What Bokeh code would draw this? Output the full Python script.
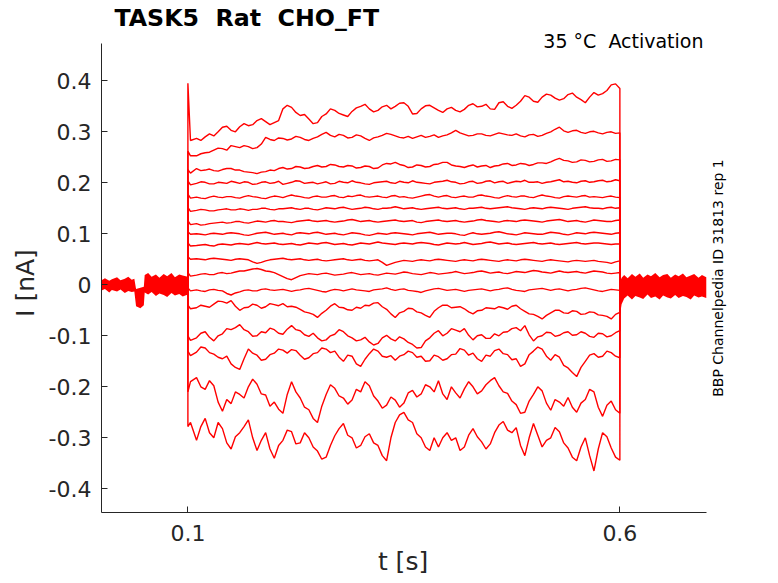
import math
from bokeh.plotting import figure
from bokeh.models import Label, FixedTicker, LinearAxis
from bokeh.embed import file_html
from bokeh.resources import INLINE

# time base of the step traces (s): onset spike, start, then a 10 ms grid
t_step = [0.100, 0.103]
t_grid = [round(0.11 + 0.01 * i, 2) for i in range(50)]
t_mid = [round(0.115 + 0.01 * i, 3) for i in range(49)]  # between grid points
holding = 0.0  # nA, holding current before / after the step

# currents in pA, one list per voltage step (spike, start, then 0.11 .. 0.60)
tr01 = [395, 283,
        287, 290, 292, 309, 303, 310, 312, 322, 320, 318,
        345, 348, 332, 325, 318, 335, 342, 333, 340, 350,
        345, 342, 352, 350, 357, 335, 345, 352, 342, 345,
        342, 344, 355, 350, 345, 357, 350, 352, 371, 360,
        368, 372, 362, 373, 368, 357, 377, 375, 392, 385]
tr02 = [262, 253,
        253, 259, 264, 267, 273, 269, 271, 269, 289, 283,
        287, 286, 289, 283, 290, 299, 290, 293, 289, 292,
        283, 290, 297, 292, 288, 287, 293, 291, 289, 294,
        303, 295, 293, 296, 292, 298, 294, 296, 290, 295,
        293, 300, 309, 299, 303, 297, 301, 296, 300, 298]
tr03 = [226, 219,
        228, 225, 224, 226, 228, 225, 221, 218, 222, 224,
        230, 228, 231, 229, 234, 232, 235, 231, 233, 230,
        232, 229, 238, 240, 234, 231, 234, 232, 237, 240,
        233, 230, 235, 233, 230, 234, 238, 235, 237, 236,
        239, 241, 248, 243, 241, 244, 242, 246, 243, 245]
tr04 = [204, 196,
        199, 201, 198, 200, 203, 199, 201, 198, 202, 200,
        197, 201, 203, 200, 198, 202, 199, 201, 204, 200,
        197, 201, 203, 199, 201, 204, 200, 198, 202, 205,
        201, 199, 203, 200, 204, 202, 199, 203, 205, 201,
        199, 202, 206, 203, 200, 204, 202, 205, 203, 204]
tr05 = [178, 170,
        172, 169, 174, 171, 173, 170, 175, 172, 169, 174,
        171, 176, 173, 170, 174, 172, 175, 171, 173, 176,
        172, 174, 171, 175, 173, 170, 174, 177, 172, 175,
        171, 174, 172, 176, 173, 170, 175, 172, 174, 171,
        176, 173, 170, 174, 172, 175, 173, 171, 174, 171]
tr06 = [152, 144,
        146, 147, 145, 148, 147, 149, 146, 148, 150, 147,
        149, 151, 148, 150, 147, 151, 149, 152, 148, 150,
        151, 148, 150, 153, 149, 151, 148, 150, 152, 149,
        151, 148, 150, 152, 149, 151, 153, 150, 148, 151,
        149, 152, 150, 148, 151, 153, 150, 149, 152, 151]
tr07 = [126, 118,
        120, 118, 121, 123, 122, 124, 121, 125, 123, 126,
        124, 122, 125, 127, 124, 126, 123, 125, 128, 124,
        126, 123, 125, 127, 124, 126, 122, 125, 127, 124,
        126, 123, 125, 128, 125, 123, 126, 124, 127, 125,
        123, 126, 128, 124, 126, 123, 127, 125, 124, 127]
tr08 = [104, 99,
        100, 98, 101, 99, 102, 100, 97, 101, 103, 99,
        101, 98, 102, 100, 103, 99, 101, 98, 102, 100,
        97, 101, 99, 102, 100, 98, 101, 103, 99, 101,
        100, 97, 102, 99, 101, 104, 100, 98, 102, 100,
        99, 103, 101, 98, 102, 100, 103, 101, 99, 102]
tr09 = [82, 76,
        77, 79, 76, 80, 78, 81, 79, 83, 80, 82,
        79, 81, 78, 82, 80, 83, 79, 81, 78, 82,
        80, 84, 81, 79, 82, 80, 83, 81, 78, 82,
        80, 83, 79, 81, 84, 80, 82, 79, 81, 83,
        80, 82, 79, 81, 83, 80, 82, 81, 79, 80]
tr10 = [55, 50,
        51, 49, 52, 50, 48, 51, 49, 42, 47, 50,
        52, 49, 51, 48, 50, 47, 49, 51, 48, 50,
        47, 49, 38, 44, 48, 46, 49, 47, 50, 48,
        46, 49, 47, 50, 48, 46, 49, 47, 50, 48,
        46, 49, 47, 45, 48, 46, 48, 45, 42, 47]
tr11 = [24, 17,
        19, 22, 20, 24, 23, 27, 29, 32, 27, 24,
        16, 10, 18, 22, 20, 23, 19, 21, 24, 20,
        22, 19, 23, 21, 25, 22, 20, 24, 21, 23,
        26, 22, 24, 27, 23, 25, 22, 26, 24, 28,
        25, 23, 27, 24, 26, 23, 27, 25, 22, 24]
tr12 = [-6, -12,
        -10, -13, -9, -12, -20, -14, -10, -12, -8, -11,
        -9, -13, -10, -7, -11, -14, -9, -12, -8, -11,
        -13, -9, -6, -11, -8, -12, -15, -10, -7, -11,
        -9, -13, -10, -8, -12, -9, -6, -11, -13, -9,
        -7, -11, -8, -12, -9, -6, -10, -13, -9, -11]
tr13 = [-40, -47,
        -45, -42, -38, -33, -31, -50, -44, -40, -43, -39,
        -37, -42, -48, -55, -64, -50, -37, -45, -50, -46,
        -41, -35, -48, -64, -52, -47, -55, -64, -45, -40,
        -44, -47, -57, -50, -46, -43, -48, -40, -52, -58,
        -67, -55, -50, -56, -52, -57, -54, -60, -67, -54]
tr14 = [-100, -109,
        -104, -92, -110, -96, -88, -78, -92, -100, -94, -88,
        -97, -80, -90, -101, -104, -108, -97, -92, -104, -108,
        -112, -115, -99, -110, -106, -117, -123, -104, -90, -95,
        -89, -86, -108, -98, -105, -100, -92, -84, -80, -110,
        -100, -94, -99, -92, -98, -95, -103, -96, -100, -90]
tr15 = [-130, -139,
        -132, -124, -136, -145, -155, -166, -126, -138, -146, -134,
        -128, -127, -138, -143, -133, -126, -130, -150, -140, -160,
        -135, -130, -142, -148, -137, -133, -140, -149, -141, -145,
        -136, -128, -134, -150, -140, -126, -137, -145, -155, -130,
        -126, -148, -142, -163, -180, -150, -135, -140, -133, -143]
tr16 = [-210, -190,
        -182, -205, -198, -248, -233, -215, -200, -195, -216, -230,
        -252, -190, -222, -245, -270, -215, -203, -222, -226, -210,
        -198, -228, -236, -226, -232, -207, -214, -200, -188, -225,
        -212, -204, -200, -208, -188, -198, -213, -235, -250, -215,
        -208, -246, -230, -221, -250, -225, -210, -258, -228, -252]
tr17 = [-278, -270,
        -305, -262, -300, -282, -322, -290, -265, -325, -290, -340,
        -305, -288, -310, -300, -326, -338, -296, -272, -300, -315,
        -292, -315, -345, -270, -250, -270, -300, -325, -318, -290,
        -300, -318, -282, -308, -312, -275, -285, -280, -335, -272,
        -318, -300, -288, -320, -345, -300, -365, -290, -320, -344]
traces = [tr01, tr02, tr03, tr04, tr05, tr06, tr07, tr08, tr09,
          tr10, tr11, tr12, tr13, tr14, tr15, tr16, tr17]

# values half way between the grid points (0.115 .. 0.595), pA
md01 = [283, 296, 300, 311, 300, 316, 314, 326, 314, 322,
        352, 338, 334, 316, 330, 345, 336, 330, 347, 354,
        339, 349, 345, 356, 350, 336, 351, 347, 338, 348,
        339, 352, 349, 354, 344, 359, 346, 360, 368, 358,
        374, 366, 365, 376, 363, 368, 372, 381, 394]
md02 = [257, 260, 268, 264, 271, 273, 267, 276, 285, 288,
        284, 291, 285, 287, 295, 293, 295, 288, 294, 287,
        288, 293, 295, 289, 291, 290, 289, 294, 292, 298,
        298, 292, 296, 293, 295, 296, 293, 292, 294, 291,
        297, 305, 302, 302, 299, 300, 298, 299, 297]
md03 = [224, 227, 223, 228, 225, 222, 220, 221, 225, 228,
        227, 232, 228, 232, 231, 236, 232, 234, 229, 233,
        228, 235, 237, 236, 230, 235, 231, 236, 240, 235,
        232, 233, 231, 234, 233, 237, 234, 238, 234, 239,
        238, 245, 244, 240, 245, 241, 245, 242, 246]
md04 = [202, 198, 201, 199, 201, 202, 197, 201, 199, 203,
        199, 204, 199, 201, 200, 198, 203, 200, 201, 198,
        200, 202, 200, 203, 200, 201, 199, 201, 203, 202,
        198, 202, 199, 203, 200, 203, 201, 202, 201, 202,
        201, 204, 202, 201, 203, 201, 204, 202, 206]
md05 = [170, 172, 172, 173, 171, 173, 173, 170, 172, 173,
        174, 174, 171, 173, 172, 174, 172, 174, 175, 173,
        173, 172, 174, 172, 171, 172, 176, 174, 174, 172,
        173, 172, 175, 174, 171, 173, 173, 174, 172, 174,
        174, 171, 173, 173, 174, 172, 172, 173, 172]
md06 = [148, 145, 147, 149, 147, 148, 148, 150, 148, 149,
        150, 149, 150, 148, 149, 150, 151, 150, 149, 152,
        149, 150, 151, 151, 150, 149, 149, 151, 150, 150,
        149, 150, 151, 150, 150, 152, 151, 149, 150, 150,
        151, 151, 149, 150, 152, 151, 150, 151, 150]
md07 = [117, 120, 122, 121, 124, 122, 123, 124, 125, 124,
        123, 124, 126, 125, 125, 124, 124, 127, 126, 125,
        124, 124, 126, 125, 125, 123, 124, 126, 125, 125,
        124, 124, 127, 126, 124, 125, 125, 126, 126, 124,
        125, 127, 126, 125, 124, 125, 126, 124, 126]
md08 = [99, 100, 100, 101, 101, 98, 99, 102, 101, 100,
        99, 101, 101, 102, 101, 100, 99, 100, 101, 98,
        99, 100, 101, 101, 99, 100, 102, 101, 100, 101,
        98, 100, 100, 100, 103, 102, 99, 100, 101, 99,
        101, 102, 99, 100, 101, 102, 102, 100, 101]
md09 = [78, 77, 79, 79, 80, 80, 81, 81, 81, 80,
        80, 79, 80, 81, 82, 81, 80, 79, 80, 81,
        82, 82, 80, 81, 81, 82, 82, 79, 80, 81,
        81, 81, 80, 83, 82, 81, 80, 80, 82, 81,
        81, 80, 80, 82, 81, 81, 82, 80, 80]
md10 = [50, 51, 51, 49, 50, 50, 45, 44, 49, 51,
        50, 50, 49, 49, 48, 48, 50, 49, 49, 48,
        48, 44, 41, 46, 47, 48, 48, 49, 49, 47,
        48, 48, 49, 49, 47, 48, 48, 49, 49, 47,
        48, 48, 46, 47, 47, 47, 46, 44, 45]
md11 = [21, 20, 23, 22, 25, 27, 31, 30, 26, 20,
        12, 14, 20, 21, 22, 21, 20, 23, 22, 21,
        20, 21, 22, 23, 24, 21, 22, 23, 22, 24,
        24, 23, 26, 25, 24, 23, 24, 25, 26, 27,
        24, 25, 25, 25, 24, 25, 26, 23, 23]
md12 = [-12, -10, -11, -17, -16, -11, -12, -9, -10, -10,
        -11, -11, -8, -9, -13, -11, -10, -10, -10, -12,
        -10, -8, -9, -9, -11, -13, -12, -8, -9, -10,
        -11, -11, -9, -10, -10, -7, -9, -12, -10, -8,
        -9, -9, -10, -10, -7, -8, -12, -11, -10]
md13 = [-40, -44, -32, -36, -42, -45, -38, -46, -37, -41,
        -43, -44, -53, -58, -56, -42, -44, -49, -44, -40,
        -36, -43, -57, -55, -46, -53, -60, -52, -40, -45,
        -43, -53, -51, -45, -47, -45, -42, -47, -57, -62,
        -60, -50, -55, -51, -58, -53, -59, -62, -58]
md14 = [-95, -103, -100, -86, -84, -88, -101, -92, -85, -95,
        -87, -88, -98, -95, -110, -100, -88, -100, -110, -103,
        -118, -104, -106, -102, -113, -124, -110, -95, -100, -86,
        -92, -99, -100, -105, -96, -93, -86, -90, -98, -102,
        -93, -101, -94, -99, -92, -101, -95, -102, -94]
md15 = [-122, -133, -142, -140, -162, -145, -134, -148, -137, -126,
        -134, -129, -146, -135, -124, -133, -142, -138, -155, -146,
        -126, -140, -139, -140, -130, -142, -150, -138, -148, -137,
        -125, -138, -145, -138, -129, -135, -147, -160, -137, -122,
        -140, -137, -158, -172, -162, -138, -142, -130, -140]
md16 = [-200, -188, -230, -225, -210, -222, -185, -214, -238, -244,
        -215, -210, -240, -262, -238, -196, -218, -234, -205, -190,
        -218, -242, -220, -240, -212, -220, -196, -210, -214, -200,
        -222, -190, -214, -196, -182, -210, -228, -252, -228, -200,
        -232, -225, -238, -240, -232, -205, -240, -236, -245]
md17 = [-278, -290, -270, -310, -298, -278, -300, -305, -322, -315,
        -285, -312, -290, -318, -342, -315, -282, -295, -320, -298,
        -310, -335, -300, -255, -265, -292, -318, -300, -300, -305,
        -325, -295, -298, -322, -290, -268, -290, -315, -300, -295,
        -305, -280, -310, -338, -318, -335, -322, -298, -338]
mids = [md01, md02, md03, md04, md05, md06, md07, md08, md09,
        md10, md11, md12, md13, md14, md15, md16, md17]

# overlapping holding-current noise before and after the step (envelope, pA)
t_pre = [0.000, 0.004, 0.009, 0.012, 0.018, 0.022, 0.027, 0.031, 0.035, 0.038,
         0.040, 0.045, 0.049, 0.050, 0.054, 0.058, 0.063, 0.067, 0.072, 0.076,
         0.081, 0.085, 0.090, 0.094, 0.100]
pre_hi = [9, 13, 8, 11, 15, 9, 12, 16, 10, 12, -8, -6, -4, 19, 23, 16, 20, 14,
          21, 17, 23, 15, 20, 18, 16]
pre_lo = [-11, -8, -15, -10, -13, -9, -16, -12, -14, -13, -42, -46, -40, -15,
          -19, -14, -22, -17, -20, -24, -16, -21, -18, -23, -19]
t_post = [0.600, 0.602, 0.605, 0.609, 0.614, 0.618, 0.623, 0.627, 0.632,
          0.636, 0.641, 0.646, 0.650, 0.655, 0.659, 0.664, 0.668, 0.673,
          0.677, 0.682, 0.686, 0.691, 0.695, 0.700]
post_hi = [5, 14, 19, 13, 21, 16, 22, 14, 20, 17, 23, 15, 19, 21, 14, 20, 17,
           22, 15, 18, 21, 14, 19, 15]
post_lo = [-60, -38, -27, -21, -29, -22, -25, -28, -19, -26, -23, -29, -21,
           -25, -27, -20, -26, -22, -24, -29, -21, -25, -23, -26]

y_ticks = [-0.4, -0.3, -0.2, -0.1, 0.0, 0.1, 0.2, 0.3, 0.4]
y_tick_labels = ["-0.4", "-0.3", "-0.2", "-0.1", "0", "0.1", "0.2", "0.3", "0.4"]
x_ticks = [0.1, 0.6]
x_tick_labels = ["0.1", "0.6"]

RED = "#ff0000"
INK = "#262626"
FONT = "DejaVu Sans"

# the frame reaches the top and right edges so the texts there are not clipped;
# the axis bounds keep the drawn spines to the data box
p = figure(width=778, height=583, x_range=(0, 0.7836), y_range=(-0.4465, 0.5575),
           output_backend="svg", toolbar_location=None,
           min_border_left=101, min_border_right=0,
           min_border_top=0, min_border_bottom=71)
p.title_location = None
p.outline_line_color = None
p.background_fill_color = "white"
p.border_fill_color = "white"
p.xgrid.visible = False
p.ygrid.visible = False

# holding noise bands
p.varea(x=t_pre, y1=[v / 1000 for v in pre_lo], y2=[v / 1000 for v in pre_hi],
        fill_color=RED)
p.varea(x=t_post, y1=[v / 1000 for v in post_lo], y2=[v / 1000 for v in post_hi],
        fill_color=RED)

for tr, md in zip(traces, mids):
    xs = [0.1] + t_step
    ys = [holding] + [v / 1000 for v in tr[:2]]
    grid = tr[2:]
    for i in range(len(grid)):
        xs.append(t_grid[i])
        ys.append(grid[i] / 1000)
        if i < len(md) and i < len(t_mid):
            xs.append(t_mid[i])
            ys.append(md[i] / 1000)
    xs.append(0.6)
    ys.append(holding)
    p.line(xs, ys, line_color=RED, line_width=1.4)


def style_axis(ax, size):
    ax.axis_line_color = INK
    ax.major_tick_line_color = INK
    ax.major_tick_in = 6
    ax.major_tick_out = 0
    ax.minor_tick_line_color = None
    ax.major_label_text_font = FONT
    ax.major_label_text_font_size = size
    ax.major_label_text_color = INK


style_axis(p.xaxis[0], "22px")
style_axis(p.yaxis[0], "22px")

p.xaxis.bounds = (0, 0.7)
p.xaxis.ticker = FixedTicker(ticks=x_ticks)
p.xaxis.major_label_overrides = dict(zip(x_ticks, x_tick_labels))
p.xaxis.major_label_standoff = 12

p.yaxis.bounds = (-0.4465, 0.473)
p.yaxis.ticker = FixedTicker(ticks=y_ticks)
p.yaxis.major_label_overrides = dict(zip(y_ticks, y_tick_labels))
p.yaxis.major_label_standoff = 10

# axis titles, centred on the data box rather than on the whole frame
x_title_at = 0.349
y_title_at = 0.0035
x_title = LinearAxis(ticker=FixedTicker(ticks=[x_title_at]),
                     major_label_overrides={x_title_at: "t [s]"})
style_axis(x_title, "25px")
x_title.axis_line_color = None
x_title.major_tick_line_color = None
x_title.major_tick_in = 0
x_title.major_label_standoff = 3
p.add_layout(x_title, "below")

y_title = LinearAxis(ticker=FixedTicker(ticks=[y_title_at]),
                     major_label_overrides={y_title_at: "I [nA]"},
                     major_label_orientation="vertical")
style_axis(y_title, "25px")
y_title.axis_line_color = None
y_title.major_tick_line_color = None
y_title.major_tick_in = 0
y_title.major_label_standoff = 5
p.add_layout(y_title, "left")

# texts
p.add_layout(Label(x=0.015, y=0.5231, text="TASK5\u00a0 Rat\u00a0 CHO_FT",
                   text_font=FONT, text_font_size="23.7px", text_font_style="bold",
                   text_color="black", text_baseline="middle"))
p.add_layout(Label(x=0.6968, y=0.4784, text="35 °C\u00a0 Activation",
                   text_font=FONT, text_font_size="19px", text_color="black",
                   text_align="right", text_baseline="middle"))
p.add_layout(Label(x=0.713, y=0.0133, text="BBP Channelpedia ID 31813 rep 1",
                   text_font=FONT, text_font_size="14px", text_color="black",
                   angle=math.pi / 2, text_align="center", text_baseline="middle"))

open("out.html", "w").write(file_html(p, INLINE))
